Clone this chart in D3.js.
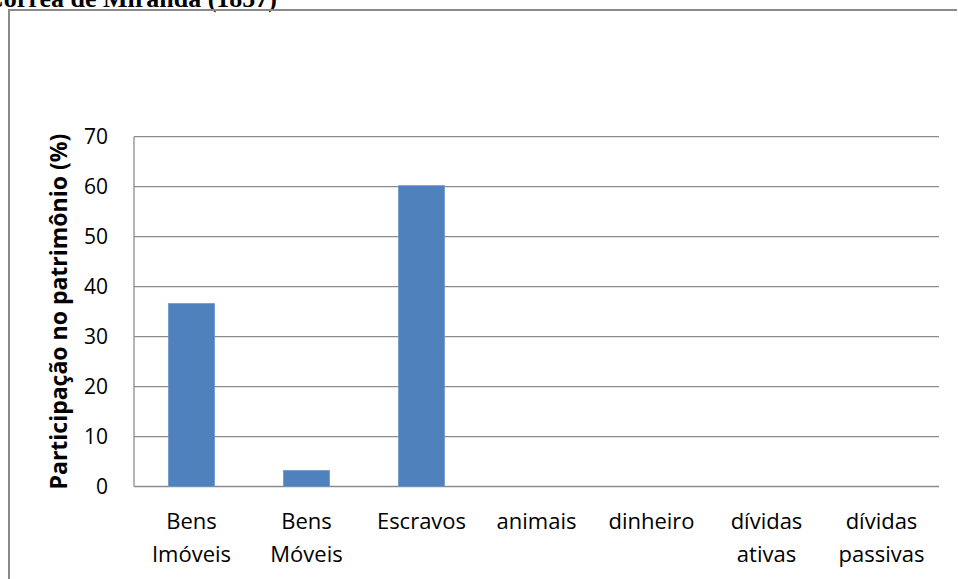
<!DOCTYPE html>
<html>
<head>
<meta charset="utf-8">
<script src="https://cdn.jsdelivr.net/npm/d3@7"></script>
<style>
  html, body { margin: 0; padding: 0; background: #fff; }
  svg { display: block; }
</style>
</head>
<body>
<svg id="chart" width="958" height="579"></svg>
<script>
// Composição do patrimônio (%) — inventário de Correa de Miranda (1857)
const categories = [
  ["Bens", "Imóveis"],
  ["Bens", "Móveis"],
  ["Escravos"],
  ["animais"],
  ["dinheiro"],
  ["dívidas", "ativas"],
  ["dívidas", "passivas"]
];
const shares = [36.6, 3.2, 60.2, 0, 0, 0, 0];
const yTicks = [0, 10, 20, 30, 40, 50, 60, 70];
const titleText = "Correa de Miranda (1857)";
const yAxisTitle = "Participação no patrimônio (%)";

const svg = d3.select("#chart");
const margin = { left: 134, right: 939, top: 136.7, bottom: 486.5 };
const labelFont = "'Open Sans', 'Noto Sans', sans-serif";

// heading, running past the top-left edge of the page
svg.append("text")
  .attr("x", 277).attr("y", 7)
  .attr("text-anchor", "end")
  .attr("font-family", "'Liberation Serif', 'Times New Roman', serif")
  .attr("font-weight", "bold")
  .attr("font-size", 26)
  .attr("fill", "#000")
  .text(titleText);

// chart frame
svg.append("path")
  .attr("d", "M9,590 L9,10 L957,10")
  .attr("fill", "none")
  .attr("stroke", "#8a8a8a")
  .attr("stroke-width", 2);

const x = d3.scaleBand()
  .domain(d3.range(categories.length))
  .range([margin.left, margin.right])
  .paddingInner(0.6)
  .paddingOuter(0.3);

const y = d3.scaleLinear()
  .domain([0, 70])
  .range([margin.bottom, margin.top]);

// horizontal gridlines
svg.append("g")
  .selectAll("line")
  .data(yTicks)
  .join("line")
  .attr("x1", margin.left).attr("x2", margin.right)
  .attr("y1", d => y(d)).attr("y2", d => y(d))
  .attr("stroke", "#8c8c8c")
  .attr("stroke-width", 1.3);

// vertical axis line
svg.append("line")
  .attr("x1", margin.left).attr("x2", margin.left)
  .attr("y1", y(70)).attr("y2", y(0))
  .attr("stroke", "#8c8c8c")
  .attr("stroke-width", 1.3);

// bars
svg.append("g")
  .selectAll("rect")
  .data(shares)
  .join("rect")
  .attr("x", (d, i) => x(i))
  .attr("width", x.bandwidth())
  .attr("y", d => y(d))
  .attr("height", d => y(0) - y(d))
  .attr("fill", "#4f81bd")
  .attr("stroke", "#6f97c8")
  .attr("stroke-width", d => d > 0 ? 0.8 : 0);

// y tick labels
const yAxis = d3.axisLeft(y).tickValues(yTicks).tickSize(0).tickPadding(26);
const gy = svg.append("g")
  .attr("transform", `translate(${margin.left},0)`)
  .call(yAxis);
gy.select(".domain").remove();
gy.selectAll("text")
  .attr("font-family", labelFont)
  .attr("font-size", 21)
  .attr("fill", "#000");

// category labels (two lines)
const xl = svg.append("g")
  .selectAll("text")
  .data(categories)
  .join("text")
  .attr("text-anchor", "middle")
  .attr("font-family", labelFont)
  .attr("font-size", 22)
  .attr("fill", "#000");
xl.selectAll("tspan")
  .data((d, i) => d.map(s => ({ s, i })))
  .join("tspan")
  .attr("x", d => x(d.i) + x.bandwidth() / 2)
  .attr("y", (d, k) => 529 + k * 33)
  .text(d => d.s);

// y axis title
svg.append("text")
  .attr("transform", `translate(67,${(margin.top + margin.bottom) / 2}) rotate(-90)`)
  .attr("text-anchor", "middle")
  .attr("font-family", labelFont)
  .attr("font-weight", "bold")
  .attr("font-size", 23)
  .attr("fill", "#000")
  .text(yAxisTitle);
</script>
</body>
</html>
